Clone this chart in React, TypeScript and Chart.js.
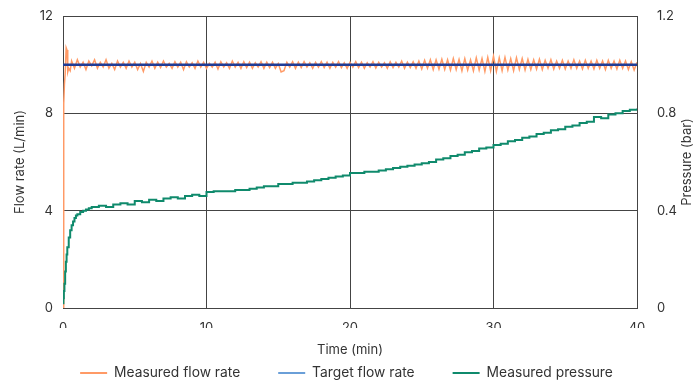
import React, { useEffect, useRef } from "react";
import { Chart, registerables } from "chart.js";

Chart.register(...registerables);

const flowTimes = [
  0, 0.05, 0.1, 0.15, 0.22, 0.28, 0.33, 0.4, 0.5,
  0.6, 0.8, 1, 1.2, 1.4, 1.6, 1.8, 2, 2.2, 2.4,
  2.6, 2.8, 3, 3.2, 3.4, 3.6, 3.8, 4, 4.2, 4.4,
  4.6, 4.8, 5, 5.2, 5.4, 5.6, 5.8, 6, 6.2, 6.4,
  6.6, 6.8, 7, 7.2, 7.4, 7.6, 7.8, 8, 8.2, 8.4,
  8.6, 8.8, 9, 9.2, 9.4, 9.6, 9.8, 10, 10.2, 10.4,
  10.6, 10.8, 11, 11.2, 11.4, 11.6, 11.8, 12, 12.2, 12.4,
  12.6, 12.8, 13, 13.2, 13.4, 13.6, 13.8, 14, 14.2, 14.4,
  14.6, 14.8, 15, 15.2, 15.4, 15.6, 15.8, 16, 16.2, 16.4,
  16.6, 16.8, 17, 17.2, 17.4, 17.6, 17.8, 18, 18.2, 18.4,
  18.6, 18.8, 19, 19.2, 19.4, 19.6, 19.8, 20, 20.2, 20.4,
  20.6, 20.8, 21, 21.2, 21.4, 21.6, 21.8, 22, 22.2, 22.4,
  22.6, 22.8, 23, 23.2, 23.4, 23.6, 23.8, 24, 24.2, 24.4,
  24.6, 24.8, 25, 25.2, 25.4, 25.6, 25.8, 26, 26.2, 26.4,
  26.6, 26.8, 27, 27.2, 27.4, 27.6, 27.8, 28, 28.2, 28.4,
  28.6, 28.8, 29, 29.2, 29.4, 29.6, 29.8, 30, 30.2, 30.4,
  30.6, 30.8, 31, 31.2, 31.4, 31.6, 31.8, 32, 32.2, 32.4,
  32.6, 32.8, 33, 33.2, 33.4, 33.6, 33.8, 34, 34.2, 34.4,
  34.6, 34.8, 35, 35.2, 35.4, 35.6, 35.8, 36, 36.2, 36.4,
  36.6, 36.8, 37, 37.2, 37.4, 37.6, 37.8, 38, 38.2, 38.4,
  38.6, 38.8, 39, 39.2, 39.4, 39.6, 39.8, 40,
];

const flowRate = [
  0, 8.4, 9.2, 9.6, 10.7, 10.6, 9.7, 9.85, 9.75,
  10.15, 9.85, 10.2, 9.9, 10.1, 9.8, 10.15, 9.95, 10.2, 9.85,
  10.1, 9.9, 10.2, 9.85, 10.05, 9.8, 10.15, 9.9, 10.1, 9.85,
  10.15, 9.9, 10.1, 9.8, 10.05, 9.72, 10.1, 9.9, 10.15, 9.85,
  10.1, 9.88, 10.15, 9.9, 10.05, 9.85, 10.12, 9.9, 10.1, 9.8,
  10.12, 9.9, 10.08, 9.85, 10.15, 9.9, 10.1, 9.85, 10.05, 9.9,
  10.1, 9.82, 10.12, 9.9, 10.08, 9.85, 10.15, 9.9, 10.1, 9.85,
  10.12, 9.88, 10.1, 9.85, 10.08, 9.9, 10.12, 9.85, 10.1, 9.88,
  10.1, 9.85, 10.05, 9.7, 9.75, 10.1, 9.9, 10.12, 9.85, 10.1,
  9.88, 10.12, 9.9, 10.08, 9.85, 10.1, 9.9, 10.12, 9.88, 10.1,
  9.85, 10.1, 9.9, 10.12, 9.88, 10.08, 9.85, 10.1, 9.9, 10.12,
  9.88, 10.1, 9.85, 10.08, 9.9, 10.12, 9.86, 10.1, 9.9, 10.08,
  9.85, 10.12, 9.88, 10.1, 9.9, 10.15, 9.85, 10.1, 9.88, 10.12,
  9.85, 10.15, 9.82, 10.18, 9.85, 10.2, 9.8, 10.2, 9.82, 10.22,
  9.8, 10.2, 9.78, 10.25, 9.8, 10.22, 9.75, 10.25, 9.78, 10.2,
  9.75, 10.28, 9.78, 10.25, 9.72, 10.3, 9.75, 10.35, 9.72, 10.28,
  9.75, 10.3, 9.78, 10.25, 9.75, 10.28, 9.8, 10.25, 9.78, 10.22,
  9.8, 10.2, 9.82, 10.22, 9.8, 10.18, 9.85, 10.2, 9.82, 10.15,
  9.85, 10.18, 9.82, 10.15, 9.85, 10.2, 9.85, 10.15, 9.82, 10.18,
  9.85, 10.15, 9.82, 10.18, 9.85, 10.15, 9.8, 10.18, 9.85, 10.15,
  9.82, 10.18, 9.85, 10.15, 9.8, 10.12, 9.78, 10.1,
];

const targetTimes = [0, 40];
const targetRate = [10, 10];

const pressureTimes = [
  0, 0.03, 0.06, 0.1, 0.15, 0.2, 0.25, 0.3, 0.4, 0.5, 0.6, 0.7, 0.8, 0.9, 1.0, 1.2, 1.4, 1.6, 1.8, 2.0,
  2.5, 3, 3.5, 4, 4.5, 5, 5.5, 6, 6.5, 7, 7.5, 8, 8.5, 9, 9.5, 10,
  10.5, 11, 11.5, 12, 12.5, 13, 13.5, 14, 14.5, 15, 15.5, 16, 16.5, 17, 17.5, 18, 18.5, 19, 19.5, 20,
  20.5, 21, 21.5, 22, 22.5, 23, 23.5, 24, 24.5, 25, 25.5, 26, 26.5, 27, 27.5, 28, 28.5, 29, 29.5, 30,
  30.5, 31, 31.5, 32, 32.5, 33, 33.5, 34, 34.5, 35, 35.5, 36, 36.5, 37, 37.5, 38, 38.5, 39, 39.5, 40,
];

const pressure = [
  0.02, 0.04, 0.07, 0.1, 0.15, 0.19, 0.22, 0.25, 0.29, 0.32, 0.34, 0.355, 0.37, 0.38, 0.385, 0.395, 0.4, 0.405, 0.41, 0.415,
  0.42, 0.415, 0.425, 0.43, 0.425, 0.44, 0.435, 0.445, 0.44, 0.45, 0.455, 0.45, 0.46, 0.465, 0.46, 0.477,
  0.48, 0.48, 0.48, 0.485, 0.485, 0.49, 0.495, 0.5, 0.5, 0.51, 0.51, 0.515, 0.515, 0.52, 0.525, 0.53, 0.535, 0.54, 0.545, 0.555,
  0.555, 0.56, 0.56, 0.565, 0.57, 0.575, 0.58, 0.585, 0.59, 0.595, 0.6, 0.61, 0.615, 0.625, 0.63, 0.64, 0.645, 0.655, 0.66, 0.67,
  0.675, 0.685, 0.69, 0.7, 0.705, 0.715, 0.72, 0.73, 0.735, 0.745, 0.75, 0.76, 0.765, 0.785, 0.78, 0.795, 0.8, 0.81, 0.815, 0.82,
];

const xTicks = [0, 10, 20, 30, 40];
const leftTicks = [0, 4, 8, 12];
const rightTicks = [0, 0.4, 0.8, 1.2];

const FONT = "Inter";
const TEXT = "#333333";
const GRID = "#444444";
const LEGEND_PAD = 38;
const LEGEND_SIZE = 13.8;
const LEGEND_TOP = 373 - LEGEND_SIZE / 2 - LEGEND_PAD;

const pts = (xs: number[], ys: number[]) => xs.map((x, i) => ({ x, y: ys[i] }));

export default function App() {
  const ref = useRef<HTMLCanvasElement | null>(null);

  useEffect(() => {
    document.body.style.margin = "0";
    const canvas = ref.current;
    if (!canvas) return;

    const rightTitle = {
      id: "rightTitle",
      afterDraw(chart: any) {
        const { ctx, chartArea } = chart;
        ctx.save();
        ctx.font = `13px ${FONT}`;
        ctx.fillStyle = TEXT;
        ctx.textAlign = "center";
        ctx.textBaseline = "middle";
        ctx.translate(687, (chartArea.top + chartArea.bottom) / 2);
        ctx.rotate(-Math.PI / 2);
        ctx.fillText("Pressure (bar)", 0, 0);
        ctx.restore();
      },
    };

    const legendHeight = LEGEND_SIZE + LEGEND_PAD + 10;

    const chart = new Chart(canvas, {
      type: "line",
      data: {
        datasets: [
          {
            label: "Measured flow rate",
            data: pts(flowTimes, flowRate),
            borderColor: "#ff9a66",
            backgroundColor: "#ff9a66",
            borderWidth: 1.5,
            pointRadius: 0,
            yAxisID: "y",
            order: 3,
          },
          {
            label: "Target flow rate",
            data: pts(targetTimes, targetRate),
            borderColor: "#1f3c96",
            backgroundColor: "#6a9fd8",
            borderWidth: 2.5,
            pointRadius: 0,
            yAxisID: "y",
            order: 1,
          },
          {
            label: "Measured pressure",
            data: pts(pressureTimes, pressure),
            borderColor: "#0f8a6c",
            backgroundColor: "#0f8a6c",
            borderWidth: 2,
            pointRadius: 0,
            stepped: true,
            yAxisID: "y1",
            order: 2,
          },
        ],
      },
      options: {
        animation: false,
        responsive: false,
        layout: {
          autoPadding: false,
          padding: { top: 16, left: 0, right: 0, bottom: 384 - (LEGEND_TOP + legendHeight) },
        },
        plugins: {
          tooltip: { enabled: false },
          legend: {
            position: "bottom",
            labels: {
              font: { family: FONT, size: LEGEND_SIZE },
              color: TEXT,
              boxWidth: 27,
              boxHeight: 2,
              padding: LEGEND_PAD,
              sort: (a: any, b: any) => a.datasetIndex - b.datasetIndex,
              generateLabels(chart: any) {
                const items = Chart.defaults.plugins.legend.labels.generateLabels(chart);
                return items.map((it: any) => ({
                  ...it,
                  fillStyle: chart.data.datasets[it.datasetIndex].backgroundColor,
                  strokeStyle: chart.data.datasets[it.datasetIndex].backgroundColor,
                  lineWidth: 0,
                }));
              },
            },
          },
        },
        scales: {
          x: {
            type: "linear",
            min: 0,
            max: 40,
            afterBuildTicks(scale: any) {
              scale.ticks = xTicks.map((v) => ({ value: v }));
            },
            afterFit(scale: any) {
              scale.height = LEGEND_TOP - 308;
            },
            grid: { color: GRID, drawTicks: false, lineWidth: 1 },
            border: { color: GRID },
            ticks: { font: { family: FONT, size: 13 }, color: TEXT, padding: 12 },
            title: {
              display: true,
              text: "Time (min)",
              font: { family: FONT, size: 13 },
              color: TEXT,
              padding: { top: 0, bottom: LEGEND_TOP - 7.8 - 350 },
            },
          },
          y: {
            position: "left",
            min: 0,
            max: 12,
            afterBuildTicks(scale: any) {
              scale.ticks = leftTicks.map((v) => ({ value: v }));
            },
            afterFit(scale: any) {
              scale.width = 63;
              scale.paddingTop = 0;
              scale.paddingBottom = 0;
            },
            grid: { color: GRID, drawTicks: false, lineWidth: 1 },
            border: { color: GRID },
            ticks: { font: { family: FONT, size: 13 }, color: TEXT, padding: 10 },
            title: { display: true, text: "Flow rate (L/min)", font: { family: FONT, size: 13 }, color: TEXT, padding: { top: 12, bottom: 0 } },
          },
          y1: {
            position: "right",
            min: 0,
            max: 1.2,
            afterBuildTicks(scale: any) {
              scale.ticks = rightTicks.map((v) => ({ value: v }));
            },
            afterFit(scale: any) {
              scale.width = 56;
              scale.paddingTop = 0;
              scale.paddingBottom = 0;
            },
            grid: { display: false },
            border: { color: GRID },
            ticks: { font: { family: FONT, size: 13 }, color: TEXT, padding: 12 },
          },
        },
      },
      plugins: [rightTitle],
    } as any);

    return () => chart.destroy();
  }, []);

  return (
    <div style={{ width: 693, height: 384 }}>
      <canvas ref={ref} width={693} height={384} style={{ display: "block" }} />
    </div>
  );
}
